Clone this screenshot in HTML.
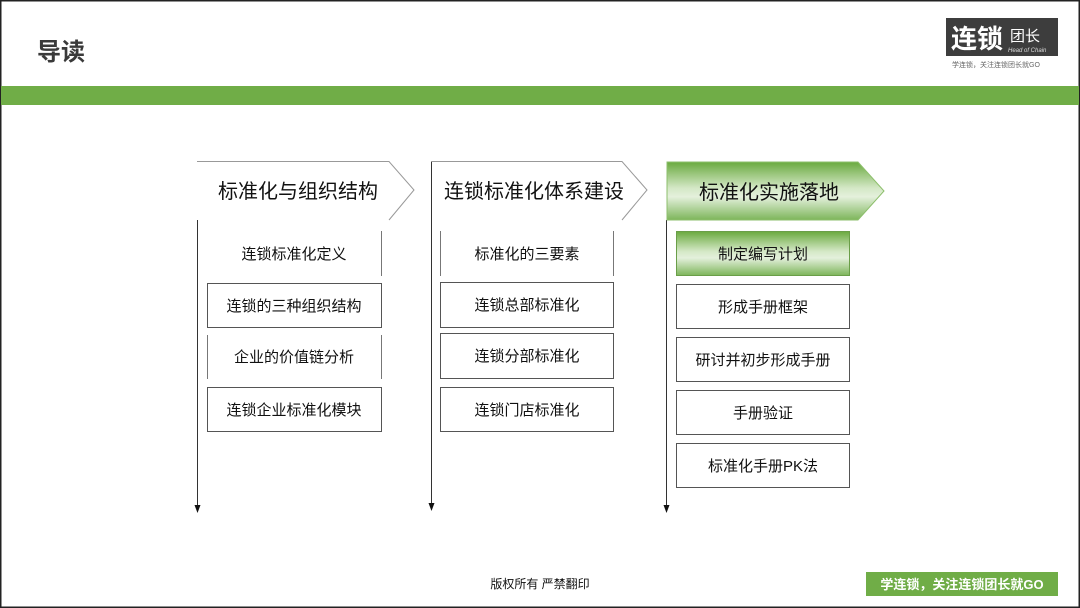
<!DOCTYPE html>
<html><head><meta charset="utf-8"><style>
html,body{margin:0;padding:0;background:#fff}
svg{display:block}
text{font-family:"Liberation Sans","Noto Sans CJK SC",sans-serif;fill:#111}
</style></head><body>
<svg width="1080" height="608" viewBox="0 0 1080 608" xmlns="http://www.w3.org/2000/svg">
<defs>
<linearGradient id="g" x1="0" y1="0" x2="0" y2="1">
<stop offset="0" stop-color="#6aaa3f"/><stop offset="0.45" stop-color="#d4e8c6"/><stop offset="0.6" stop-color="#e4f0dc"/><stop offset="1" stop-color="#7db55a"/>
</linearGradient>
</defs>
<rect x="0.75" y="0.75" width="1078.5" height="606.5" fill="#fff" stroke="#222" stroke-width="1.5"/>
<text x="37" y="60" font-size="24" font-weight="bold" style="fill:#3a3a3a">导读</text>
<rect x="946" y="18" width="112" height="38" fill="#3d3d3d"/>
<text x="951" y="48" font-size="26" font-weight="bold" style="fill:#fff">连锁</text>
<text x="1010" y="41" font-size="15" style="fill:#fff">团长</text>
<text x="1008" y="52" font-size="6" font-style="italic" style="fill:#ddd">Head of Chain</text>
<text x="952" y="67" font-size="7" style="fill:#666">学连锁，关注连锁团长就GO</text>
<rect x="1" y="86" width="1078" height="19" fill="#70ad47"/>

<!-- column 1 -->
<line x1="197.5" y1="220" x2="197.5" y2="506" stroke="#333" stroke-width="1"/>
<polygon points="194.5,505 200.5,505 197.5,513" fill="#111"/>
<polyline points="197,161.5 389,161.5 414,190 389,220" fill="none" stroke="#999" stroke-width="1"/>
<text x="298" y="198" font-size="20" text-anchor="middle">标准化与组织结构</text>
<line x1="381.5" y1="231" x2="381.5" y2="276" stroke="#777"/>
<text x="294" y="259" font-size="15" text-anchor="middle">连锁标准化定义</text>
<rect x="207.5" y="283.5" width="174" height="44" fill="none" stroke="#555"/>
<text x="294" y="311" font-size="15" text-anchor="middle">连锁的三种组织结构</text>
<line x1="207.5" y1="335" x2="207.5" y2="379" stroke="#777"/>
<line x1="381.5" y1="335" x2="381.5" y2="379" stroke="#777"/>
<text x="294" y="362" font-size="15" text-anchor="middle">企业的价值链分析</text>
<rect x="207.5" y="387.5" width="174" height="44" fill="none" stroke="#555"/>
<text x="294" y="415" font-size="15" text-anchor="middle">连锁企业标准化模块</text>

<!-- column 2 -->
<line x1="431.5" y1="161" x2="431.5" y2="504" stroke="#333" stroke-width="1"/>
<polygon points="428.5,503 434.5,503 431.5,511" fill="#111"/>
<polyline points="431,161.5 622,161.5 647,190 622,220" fill="none" stroke="#999" stroke-width="1"/>
<text x="534" y="198" font-size="20" text-anchor="middle">连锁标准化体系建设</text>
<line x1="440.5" y1="231" x2="440.5" y2="276" stroke="#777"/>
<line x1="613.5" y1="231" x2="613.5" y2="276" stroke="#777"/>
<text x="527" y="259" font-size="15" text-anchor="middle">标准化的三要素</text>
<rect x="440.5" y="282.5" width="173" height="45" fill="none" stroke="#555"/>
<text x="527" y="310" font-size="15" text-anchor="middle">连锁总部标准化</text>
<rect x="440.5" y="333.5" width="173" height="45" fill="none" stroke="#555"/>
<text x="527" y="361" font-size="15" text-anchor="middle">连锁分部标准化</text>
<rect x="440.5" y="387.5" width="173" height="44" fill="none" stroke="#555"/>
<text x="527" y="415" font-size="15" text-anchor="middle">连锁门店标准化</text>

<!-- column 3 -->
<line x1="666.5" y1="220" x2="666.5" y2="506" stroke="#333" stroke-width="1"/>
<polygon points="663.5,505 669.5,505 666.5,513" fill="#111"/>
<polygon points="667,162 858,162 884,191 858,220 667,220" fill="url(#g)" stroke="#8dbf6c" stroke-width="1"/>
<text x="769" y="199" font-size="20" text-anchor="middle">标准化实施落地</text>
<rect x="676.5" y="231.5" width="173" height="44" fill="url(#g)" stroke="#6a9e48"/>
<text x="763" y="259" font-size="15" text-anchor="middle">制定编写计划</text>
<rect x="676.5" y="284.5" width="173" height="44" fill="none" stroke="#555"/>
<text x="763" y="312" font-size="15" text-anchor="middle">形成手册框架</text>
<rect x="676.5" y="337.5" width="173" height="44" fill="none" stroke="#555"/>
<text x="763" y="365" font-size="15" text-anchor="middle">研讨并初步形成手册</text>
<rect x="676.5" y="390.5" width="173" height="44" fill="none" stroke="#555"/>
<text x="763" y="418" font-size="15" text-anchor="middle">手册验证</text>
<rect x="676.5" y="443.5" width="173" height="44" fill="none" stroke="#555"/>
<text x="763" y="471" font-size="15" text-anchor="middle">标准化手册PK法</text>

<text x="540" y="588" font-size="12" text-anchor="middle">版权所有  严禁翻印</text>
<rect x="866" y="572" width="192" height="24" fill="#70ad47"/>
<text x="962" y="589" font-size="13" font-weight="bold" text-anchor="middle" style="fill:#fff">学连锁，关注连锁团长就GO</text>
</svg>
</body></html>
